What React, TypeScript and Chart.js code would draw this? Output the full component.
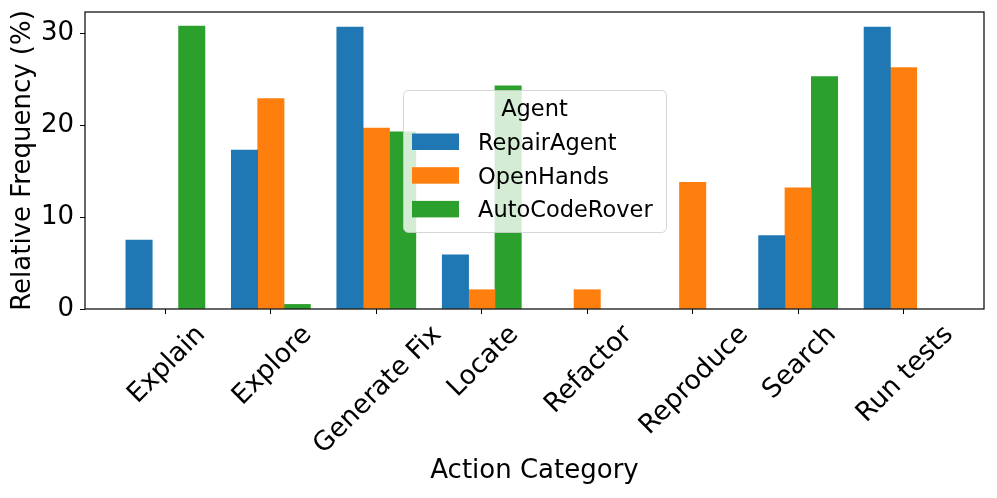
import React, { useEffect, useRef } from 'react';
import { Chart, registerables } from 'chart.js';

Chart.register(...registerables);

const categories = ['Explain', 'Explore', 'Generate Fix', 'Locate', 'Refactor', 'Reproduce', 'Search', 'Run tests'];
const agents = ['RepairAgent', 'OpenHands', 'AutoCodeRover'];
const repairAgent = [7.5, 17.3, 30.7, 5.9, 0, 0, 8.0, 30.7];
const openHands = [0, 22.9, 19.7, 2.1, 2.1, 13.8, 13.2, 26.3];
const autoCodeRover = [30.8, 0.5, 19.3, 24.3, 0, 0, 25.3, 0];
const yTickValues = [0, 10, 20, 30];
const colors = ['#1f77b4', '#ff7f0e', '#2ca02c'];

const FONT = '"DejaVu Sans", sans-serif';
const BAR_W = 0.25;

const customPlugin = {
  id: 'mplStyle',
  afterDatasetsDraw(chart: any) {
    const { ctx, chartArea: a, scales } = chart;
    ctx.save();
    // spines
    ctx.strokeStyle = '#000';
    ctx.lineWidth = 1.2;
    ctx.strokeRect(a.left, a.top, a.right - a.left, a.bottom - a.top);
    // rotated x tick labels (bbox centred on tick)
    const fs = 26.5;
    ctx.font = `${fs}px ${FONT}`;
    ctx.fillStyle = '#000';
    ctx.textAlign = 'center';
    ctx.textBaseline = 'alphabetic';
    categories.forEach((c, i) => {
      const x = scales.x.getPixelForValue(i);
      const w = ctx.measureText(c).width;
      const h = fs * 1.164;
      const side = (w + h) / Math.SQRT2;
      const cy = a.bottom + 9 + side / 2;
      ctx.save();
      ctx.translate(x, cy);
      ctx.rotate(-Math.PI / 4);
      ctx.fillText(c, 0, 0.346 * fs);
      ctx.restore();
    });
    ctx.restore();
  },
  afterDraw(chart: any) {
    const { ctx, chartArea: a } = chart;
    const bx = a.left + 318;
    const by = a.top + 78;
    const bw = 263;
    const bh = 142;
    ctx.save();
    ctx.beginPath();
    (ctx as any).roundRect(bx + 0.5, by + 0.5, bw, bh, 5);
    ctx.fillStyle = 'rgba(255,255,255,0.8)';
    ctx.fill();
    ctx.strokeStyle = 'rgba(204,204,204,0.8)';
    ctx.lineWidth = 1;
    ctx.stroke();
    const fs = 22.5;
    ctx.font = `${fs}px ${FONT}`;
    ctx.fillStyle = '#000';
    ctx.textAlign = 'center';
    ctx.textBaseline = 'alphabetic';
    ctx.fillText('Agent', bx + bw / 2, by + 26);
    ctx.textAlign = 'left';
    agents.forEach((name, j) => {
      const base = by + 60 + j * 33.7;
      ctx.fillStyle = colors[j];
      ctx.fillRect(bx + 9, base - 16.5, 47, 16.5);
      ctx.fillStyle = '#000';
      ctx.fillText(name, bx + 75, base);
    });
    ctx.restore();
  },
};

export default function App() {
  const ref = useRef<HTMLCanvasElement | null>(null);

  useEffect(() => {
    if (!ref.current) return;
    const series = [repairAgent, openHands, autoCodeRover];
    const datasets = series.map((vals, j) => ({
      label: agents[j],
      data: vals.map((v, i) => ({ x: i + (j - 1) * BAR_W, y: v === 0 ? null : v })),
      backgroundColor: colors[j],
      borderWidth: 0,
      grouped: false,
      barPercentage: 1,
      categoryPercentage: 1,
    }));
    const dataMin = -1.5 * BAR_W;
    const dataMax = categories.length - 1 + 1.5 * BAR_W;
    const margin = 0.05 * (dataMax - dataMin);
    const yMax = Math.max(...repairAgent, ...openHands, ...autoCodeRover) * 1.05;

    const chart = new Chart(ref.current, {
      type: 'bar',
      data: { datasets: datasets as any },
      options: {
        animation: false,
        responsive: true,
        maintainAspectRatio: false,
        devicePixelRatio: 1,
        layout: { padding: { top: 12, right: 13, left: 0, bottom: 0 } },
        plugins: { legend: { display: false }, tooltip: { enabled: false } },
        scales: {
          x: {
            type: 'linear',
            min: dataMin - margin,
            max: dataMax + margin,
            offset: false,
            grid: { offset: false, drawOnChartArea: false, drawTicks: true, tickLength: 5, color: '#000', lineWidth: 1 },
            border: { display: false },
            ticks: { display: false },
            afterBuildTicks: (s: any) => {
              s.ticks = categories.map((_, i) => ({ value: i }));
            },
            afterFit: (s: any) => {
              s.height = 189;
              s.paddingLeft = 0;
              s.paddingRight = 0;
              s.paddingTop = 0;
              s.paddingBottom = 0;
            },
            title: {
              display: true,
              text: 'Action Category',
              color: '#000',
              font: { family: FONT, size: 26 },
              padding: { top: 0, bottom: 11 },
            },
          },
          y: {
            type: 'linear',
            min: 0,
            max: yMax,
            grid: { drawOnChartArea: false, drawTicks: true, tickLength: 5, color: '#000', lineWidth: 1 },
            border: { display: false },
            ticks: { color: '#000', font: { family: FONT, size: 26 }, padding: 6 },
            afterBuildTicks: (s: any) => {
              s.ticks = yTickValues.map((v) => ({ value: v }));
            },
            afterFit: (s: any) => {
              s.width = 85;
              s.paddingLeft = 0;
              s.paddingRight = 0;
              s.paddingTop = 0;
              s.paddingBottom = 0;
            },
            title: {
              display: true,
              text: 'Relative Frequency (%)',
              color: '#000',
              font: { family: FONT, size: 26 },
              padding: { top: 8, bottom: 0 },
            },
          },
        },
      },
      plugins: [customPlugin],
    });
    return () => chart.destroy();
  }, []);

  return (
    <div style={{ position: 'fixed', left: 0, top: 0, width: 997, height: 498, background: '#fff' }}>
      <canvas ref={ref} />
    </div>
  );
}
